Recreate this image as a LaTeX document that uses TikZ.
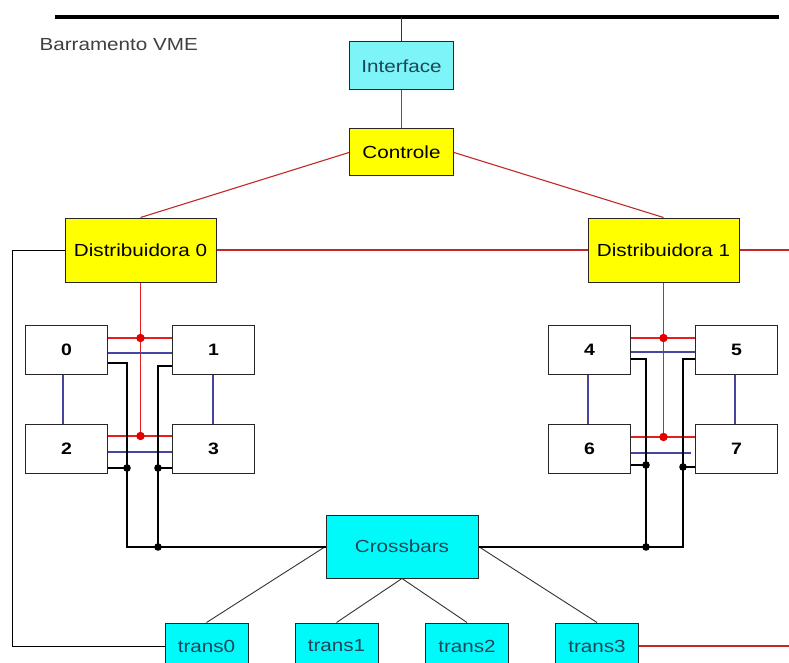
\documentclass[tikz,border=0pt]{standalone}
\usepackage{fontspec}
\setmainfont{Liberation Sans}[FakeStretch=1.18]
\definecolor{ifc}{RGB}{125,245,248}
\definecolor{cyn}{RGB}{0,250,250}
\definecolor{ylw}{RGB}{255,255,0}
\definecolor{ctext}{RGB}{30,70,90}
\definecolor{wire}{RGB}{195,40,40}
\definecolor{rwire}{RGB}{230,30,30}
\definecolor{bwire}{RGB}{70,70,160}
\definecolor{dotred}{RGB}{225,0,0}
\begin{document}
\begin{tikzpicture}[x=1pt,y=-1pt,
  box/.style={draw=black!85,line width=1pt,inner sep=0pt,
    font=\fontsize{17.5}{20}\selectfont},
  ybox/.style={box,fill=ylw,minimum width=151pt,minimum height=64pt},
  cbox/.style={box,fill=cyn,text=ctext},
  tbox/.style={cbox,minimum width=83pt,minimum height=46pt},
  nbox/.style={box,fill=white,minimum width=82pt,minimum height=49pt,
    font=\fontsize{16.5}{20}\selectfont\bfseries},
  redw/.style={draw=wire,line width=1.1pt},
  redc/.style={draw=rwire,line width=1.5pt},
  bluew/.style={draw=bwire,line width=1.2pt},
  blk/.style={draw=black,line width=1.2pt},
  thinw/.style={draw=black!80,line width=0.9pt},
  rdot/.style={fill=dotred},
  kdot/.style={fill=black}]
\clip (0,0) rectangle (789,663);
\fill[white] (0,0) rectangle (789,663);

% VME bus
\coordinate (busl) at (55,17);
\coordinate (busr) at (779,17);
\draw[line width=3.5pt] (busl) -- (busr);
\node[anchor=base west,text=black!75,font=\fontsize{17.5}{20}\selectfont] (vme) at (36,50.3) {Barramento VME};

% control chain
\node[box,fill=ifc,text=ctext,minimum width=104pt,minimum height=48pt] (if) at (401.5,66) {Interface};
\node[box,fill=ylw,minimum width=104pt,minimum height=47pt] (ct) at (401.5,152.5) {Controle};
\node[ybox] (d0) at (140.5,250) {Distribuidora 0};
\node[ybox] (d1) at (663.5,250) {Distribuidora 1};
\node[cbox,minimum width=152pt,minimum height=63pt] (xb) at (402,546.5) {Crossbars};

\draw[thinw] (if.north |- busl) -- (if.north);
\draw[redw] (if) -- (ct);
\draw[redw] (ct.west) -- (d0.north);
\draw[redw] (ct.east) -- (d1.north);
\draw[redw] (d0) -- (d1);
\coordinate (redge) at (789,250);
\draw[redw] (d1.east) -- (redge);

% transputers
\node[tbox] (t0) at (206.5,646) {trans0};
\node[tbox] (t1) at (336.5,646) {trans1};
\node[tbox] (t2) at (467,646) {trans2};
\node[tbox] (t3) at (597,646) {trans3};
\draw[thinw] (xb.west) -- (t0.north);
\draw[thinw] (xb.south) -- (t1.north);
\draw[thinw] (xb.south) -- (t2.north);
\draw[thinw] (xb.east) -- (t3.north);
\coordinate (lc) at (12.5,646);
\draw[blk,line width=1pt] (d0.west) -| (lc) -- (t0.west);
\coordinate (redgeb) at (789,646);
\draw[redw] (t3.east) -- (redgeb);

% processor group 0-3
\node[nbox] (n0) at (66.5,349.5) {0};
\node[nbox] (n1) at (213.5,349.5) {1};
\node[nbox] (n2) at (66.5,448.5) {2};
\node[nbox] (n3) at (213.5,448.5) {3};
\coordinate (ra) at (140.5,338);
\coordinate (rb) at (140.5,436);
\coordinate (ka) at (127,468);
\coordinate (kb) at (158,468);
\coordinate (kc) at (158,547);
\coordinate (kd) at (127,547);
\draw[redc] (d0.south) -- (rb);
\draw[redc] (n0.east |- ra) -- (n1.west |- ra);
\draw[redc] (n2.east |- rb) -- (n3.west |- rb);
\draw[bluew] (n0.east |- 0,353) -- (n1.west |- 0,353);
\draw[bluew] (n2.east |- 0,452) -- (n3.west |- 0,452);
\draw[bluew] (n0.south -| 63,0) -- (n2.north -| 63,0);
\draw[bluew] (n1.south -| 213,0) -- (n3.north -| 213,0);
\draw[blk] (n0.east |- 0,363) -| (kd) -- (kd -| xb.west);
\draw[blk] (n1.west |- 0,366) -| (kc);
\draw[blk] (n2.east |- ka) -- (ka);
\draw[blk] (n3.west |- kb) -- (kb);
\fill[rdot] (ra) circle (4.2pt) (rb) circle (4.2pt);
\fill[kdot] (ka) circle (3.8pt) (kb) circle (3.8pt) (kc) circle (3.8pt);

% processor group 4-7
\node[nbox] (n4) at (589.5,349.5) {4};
\node[nbox] (n5) at (736.5,349.5) {5};
\node[nbox] (n6) at (589.5,448.5) {6};
\node[nbox] (n7) at (736.5,448.5) {7};
\coordinate (sa) at (663.5,338);
\coordinate (sb) at (663.5,437);
\coordinate (ma) at (646,465);
\coordinate (mb) at (683,467);
\coordinate (mc) at (646,547);
\coordinate (md) at (683,547);
\coordinate (be) at (691,453);
\draw[redc] (d1.south) -- (sb);
\draw[redc] (n4.east |- sa) -- (n5.west |- sa);
\draw[redc] (n6.east |- sb) -- (n7.west |- sb);
\draw[bluew] (n4.east |- 0,352) -- (n5.west |- 0,352);
\draw[bluew] (n6.east |- be) -- (be);
\draw[bluew] (n4.south -| 588,0) -- (n6.north -| 588,0);
\draw[bluew] (n5.south -| 735,0) -- (n7.north -| 735,0);
\draw[blk] (n4.east |- 0,359) -| (mc);
\draw[blk] (n5.west |- 0,359) -| (md) -- (md -| xb.east);
\draw[blk] (n6.east |- ma) -- (ma);
\draw[blk] (n7.west |- mb) -- (mb);
\fill[rdot] (sa) circle (4.2pt) (sb) circle (4.2pt);
\fill[kdot] (ma) circle (3.8pt) (mb) circle (3.8pt) (mc) circle (3.8pt);
\end{tikzpicture}
\end{document}
